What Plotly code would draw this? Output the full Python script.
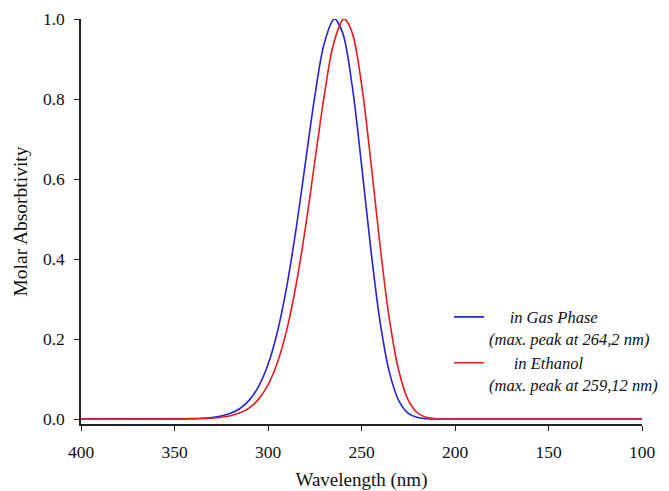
import plotly.graph_objects as go

# Simulated UV-Vis spectra (normalised molar absorptivity vs wavelength)
gas_wavelength = [400, 345, 340, 335, 330, 325, 320, 315, 310, 305, 300, 295, 290,
                  285, 280, 275, 270, 265, 264.2, 260, 255, 250, 245, 240, 235,
                  230, 225, 220, 215, 210, 205, 200, 100]
gas_absorb = [0, 0.0004, 0.001, 0.0019, 0.0038, 0.0075, 0.0142, 0.0263, 0.0472,
              0.0818, 0.1363, 0.2176, 0.3305, 0.4747, 0.6405, 0.806, 0.9375,
              0.9987, 1.0, 0.9641, 0.8334, 0.6367, 0.4235, 0.241, 0.1153,
              0.0453, 0.0143, 0.0035, 0.0007, 0.0001, 0, 0, 0]

eth_wavelength = [400, 345, 340, 335, 330, 325, 320, 315, 310, 305, 300, 295, 290,
                  285, 280, 275, 270, 265, 260, 259.12, 255, 250, 245, 240, 235,
                  230, 225, 220, 215, 210, 205, 200, 100]
eth_absorb = [0, 0.0003, 0.00055, 0.0011, 0.0022, 0.0043, 0.0082, 0.0154, 0.028,
              0.0497, 0.0851, 0.1404, 0.2221, 0.3348, 0.478, 0.6426, 0.8061,
              0.9368, 0.9985, 1.0, 0.9659, 0.838, 0.6436, 0.4306, 0.2471,
              0.1192, 0.0473, 0.015, 0.0037, 0.0007, 0.0001, 0, 0]

NB = "&nbsp;"
gas_name = NB * 5 + "<i>in Gas Phase</i><br><i>(max. peak at 264,2 nm)</i>"
eth_name = NB * 6 + "<i>in Ethanol</i><br><i>(max. peak at 259,12 nm)</i>"

x_ticks = [400, 350, 300, 250, 200, 150, 100]
y_ticks = [0.0, 0.2, 0.4, 0.6, 0.8, 1.0]

FONT = "Liberation Serif"

fig = go.Figure()
fig.add_trace(go.Scatter(x=gas_wavelength, y=gas_absorb, mode="lines", name=gas_name,
                         line=dict(color="#2424d8", width=1.6, shape="spline")))
fig.add_trace(go.Scatter(x=eth_wavelength, y=eth_absorb, mode="lines", name=eth_name,
                         line=dict(color="#e41c1c", width=1.6, shape="spline")))

fig.update_layout(
    width=669, height=491,
    margin=dict(l=81, r=27, t=19, b=67, autoexpand=False),
    paper_bgcolor="white", plot_bgcolor="white",
    font=dict(family=FONT, size=17.5, color="#111"),
    showlegend=True,
    legend=dict(x=0.656, y=0.307, xanchor="left", yanchor="top",
                font=dict(family=FONT, size=16.5, color="#111"),
                bgcolor="rgba(0,0,0,0)", valign="top", tracegroupgap=0,
                itemwidth=30),
)
fig.update_xaxes(
    range=[400, 100], tickvals=x_ticks, ticktext=[str(v) for v in x_ticks],
    showline=True, linecolor="#222", linewidth=1.5, mirror=False,
    ticks="outside", ticklen=5, tickwidth=1.3, tickcolor="#222",
    showgrid=False, zeroline=False, automargin=False,
    tickfont=dict(family=FONT, size=17.5), ticklabelstandoff=6,
    title=dict(text="Wavelength (nm)", font=dict(family=FONT, size=19), standoff=20),
)
fig.update_yaxes(
    range=[-0.0125, 1.0], tickvals=y_ticks, ticktext=[f"{v:.1f}" for v in y_ticks],
    showline=True, linecolor="#222", linewidth=1.5, mirror=False,
    ticks="outside", ticklen=5, tickwidth=1.3, tickcolor="#222",
    showgrid=False, zeroline=False, automargin=False,
    tickfont=dict(family=FONT, size=17.5), ticklabelstandoff=6,
    title=dict(text="Molar Absorbtivity", font=dict(family=FONT, size=19.5), standoff=10),
)

fig.write_html("out.html")
